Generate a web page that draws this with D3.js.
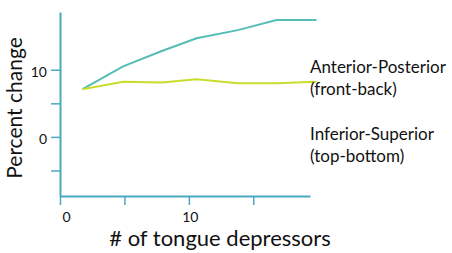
<!DOCTYPE html>
<html>
<head>
<meta charset="utf-8">
<script src="https://cdn.jsdelivr.net/npm/d3@7"></script>
<style>
  body { margin:0; background:#fff; }
  svg text { font-family: Lato, "Open Sans", sans-serif; fill:#111; }
</style>
</head>
<body>
<div id="chart"></div>
<script>
// number of tongue depressors at each reading
const depressors = [1.75, 4.9, 7.9, 10.6, 13.8, 16.8, 19.9];
const anteriorPosterior = [7.1, 10.5, 12.8, 14.7, 15.9, 17.4, 17.4];
const inferiorSuperior  = [7.1, 8.2, 8.1, 8.6, 8.0, 8.0, 8.2];
const xTicks = [0, 5, 10, 15];
const yTicks = [-5, 0, 5, 10];
const xLabelled = [0, 10];
const yLabelled = [0, 10];
const legendLines = [["Anterior-Posterior", "(front-back)"], ["Inferior-Superior", "(top-bottom)"]];

const axisColor = "#4aa9c2", apColor = "#55bdb5", isColor = "#c8dd2c";

const svg = d3.select("#chart").append("svg").attr("width",452).attr("height",253);

const x = d3.scaleLinear().domain([0,19.4]).range([60,310]);
const y = d3.scaleLinear().domain([-8.8,18.6]).range([196,12]);

const xAxis = svg.append("g").attr("transform","translate(0,196)")
    .call(d3.axisBottom(x).tickValues(xTicks).tickSize(9).tickSizeOuter(0)
        .tickFormat(d => xLabelled.includes(d) ? d : ""));
const yAxis = svg.append("g").attr("transform","translate(60,0)")
    .call(d3.axisLeft(y).tickValues(yTicks).tickSize(9).tickSizeOuter(0)
        .tickFormat(d => yLabelled.includes(d) ? d : ""));

[xAxis, yAxis].forEach(g => {
    g.select(".domain").attr("stroke",axisColor).attr("stroke-width",2);
    g.selectAll(".tick line").attr("stroke",axisColor).attr("stroke-width",1.5);
    g.selectAll(".tick text").style("font-size","14px").style("font-family","Lato, sans-serif").attr("fill","#111");
});
xAxis.selectAll(".tick text").attr("y",16).attr("dx",d => d===0 ? 6 : 1);
yAxis.selectAll(".tick text").attr("x",-13).attr("dy","0.5em");

const line = vals => d3.line().x((d,i)=>x(depressors[i])).y(d=>y(d))(vals);
svg.append("path").attr("d",line(anteriorPosterior)).attr("fill","none").attr("stroke",apColor).attr("stroke-width",2);
svg.append("path").attr("d",line(inferiorSuperior)).attr("fill","none").attr("stroke",isColor).attr("stroke-width",2);

svg.append("text").attr("transform","translate(22,108) rotate(-90)").attr("text-anchor","middle")
    .style("font-size","21px").text("Percent change");
svg.append("text").attr("x",220).attr("y",246).attr("text-anchor","middle")
    .style("font-size","22px").text("# of tongue depressors");

legendLines.forEach((pair,gi) => {
    pair.forEach((t,li) => {
        svg.append("text").attr("x",310).attr("y",73+gi*67+li*22).style("font-size","17px").text(t);
    });
});
</script>
</body>
</html>
